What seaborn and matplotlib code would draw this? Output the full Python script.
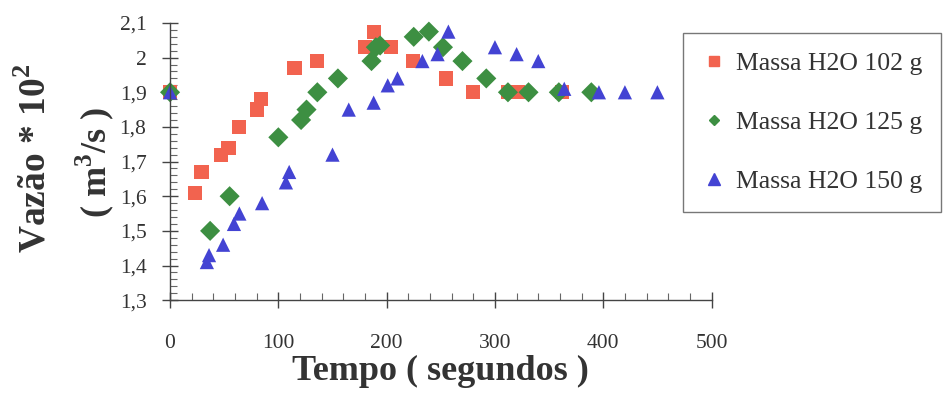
import seaborn as sns
import matplotlib.pyplot as plt
import pandas as pd
import numpy as np
from matplotlib.ticker import MultipleLocator, FuncFormatter

sns.set_theme(style="white")
plt.rcParams['font.family'] = ['Liberation Serif', 'DejaVu Serif']
plt.rcParams['mathtext.fontset'] = 'custom'
plt.rcParams['mathtext.rm'] = 'Liberation Serif'
plt.rcParams['mathtext.bf'] = 'Liberation Serif:bold'

# data
t_102 = [0, 23, 29, 47, 54, 64, 80, 84, 115, 136, 180, 188, 204, 224, 255, 280, 312, 321, 362]
q_102 = [1.90, 1.61, 1.67, 1.72, 1.74, 1.80, 1.85, 1.88, 1.97, 1.99, 2.03, 2.075, 2.03, 1.99, 1.94, 1.90, 1.90, 1.90, 1.90]

t_125 = [0, 37, 55, 100, 121, 126, 136, 155, 186, 190, 194, 225, 239, 252, 270, 292, 312, 331, 359, 389]
q_125 = [1.90, 1.50, 1.60, 1.77, 1.82, 1.85, 1.90, 1.94, 1.99, 2.03, 2.035, 2.06, 2.075, 2.03, 1.99, 1.94, 1.90, 1.90, 1.90, 1.90]

t_150 = [0, 34, 36, 49, 59, 64, 85, 107, 110, 150, 165, 188, 201, 210, 233, 247, 257, 300, 320, 340, 364, 396, 420, 450]
q_150 = [1.90, 1.41, 1.43, 1.46, 1.52, 1.55, 1.58, 1.64, 1.67, 1.72, 1.85, 1.87, 1.92, 1.94, 1.99, 2.01, 2.075, 2.03, 2.01, 1.99, 1.91, 1.90, 1.90, 1.90]

series = ["Massa H2O 102 g", "Massa H2O 125 g", "Massa H2O 150 g"]
colors = ["#F2634F", "#3D8F42", "#4343D3"]

df = pd.concat([
    pd.DataFrame({"Tempo": t_102, "Vazao": q_102, "serie": series[0]}),
    pd.DataFrame({"Tempo": t_125, "Vazao": q_125, "serie": series[1]}),
    pd.DataFrame({"Tempo": t_150, "Vazao": q_150, "serie": series[2]}),
])

fig = plt.figure(figsize=(9.5, 3.96), dpi=100)
ax = fig.add_axes([0.179, 0.242, 0.570, 0.700])

sns.scatterplot(data=df, x="Tempo", y="Vazao", hue="serie", style="serie",
                palette=dict(zip(series, colors)),
                markers=dict(zip(series, ["s", "D", "^"])),
                s=105, linewidth=0, ax=ax, legend=False, clip_on=False)

ax.set_xlim(0, 500)
ax.set_ylim(1.3, 2.1)
ax.xaxis.set_major_locator(MultipleLocator(100))
ax.xaxis.set_minor_locator(MultipleLocator(20))
ax.yaxis.set_major_locator(MultipleLocator(0.1))
ax.yaxis.set_minor_locator(MultipleLocator(0.02))
ax.yaxis.set_major_formatter(FuncFormatter(lambda v, p: ("%g" % round(v, 2)).replace(".", ",")))

for sp in ["top", "right"]:
    ax.spines[sp].set_visible(False)
for sp in ["left", "bottom"]:
    ax.spines[sp].set_color("#444444")
    ax.spines[sp].set_linewidth(1.0)

ax.tick_params(which="major", direction="inout", length=12, width=1, color="#444444",
               labelsize=15.5, labelcolor="#333333", left=True, bottom=True)
ax.tick_params(which="minor", direction="in", length=5, width=0.8, color="#666666",
               left=True, bottom=True)
ax.tick_params(axis="x", which="major", pad=18)
ax.tick_params(axis="y", which="major", pad=11)

ax.set_xlabel("Tempo ( segundos )", fontsize=26, fontweight="bold", color="#333333", labelpad=2)
ax.set_ylabel("")

fig.text(0.037, 0.60, r"Vazão * 10$^{\mathbf{2}}$", rotation=90, ha="center", va="center",
         fontsize=27, fontweight="bold", color="#333333")
fig.text(0.100, 0.59, r"( m$^{\mathbf{3}}$/s )", rotation=90, ha="center", va="center",
         fontsize=26, fontweight="bold", color="#333333")

handles = [plt.Line2D([], [], linestyle="", marker=m, color=c, markersize=ms)
           for m, c, ms in zip(["s", "D", "^"], colors, [7.5, 5.5, 9])]
leg = fig.legend(handles, series, loc="upper left", bbox_to_anchor=(0.719, 0.917),
                 frameon=True, fancybox=False, fontsize=18.5, labelspacing=1.4,
                 handlelength=0.9, handletextpad=0.4, borderpad=0.75, borderaxespad=0)
leg.get_frame().set_edgecolor("#555555")
leg.get_frame().set_linewidth(1.0)
for txt in leg.get_texts():
    txt.set_color("#333333")

plt.savefig("out.png", dpi=100)
